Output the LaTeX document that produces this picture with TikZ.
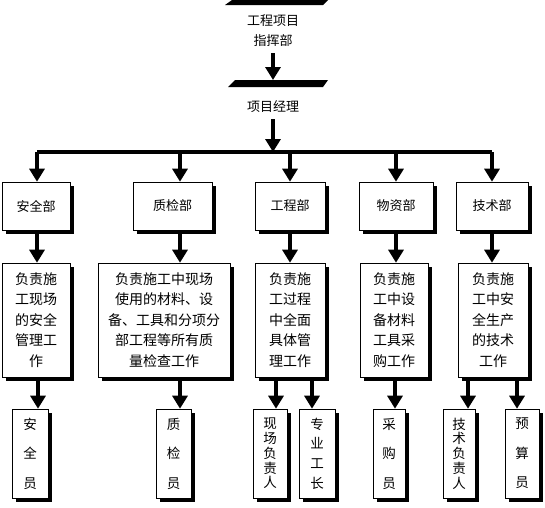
\documentclass[tikz,border=0pt]{standalone}
\usepackage{fontspec}
\newfontfamily\cjk{Noto Sans CJK SC}
\usetikzlibrary{arrows.meta,shadows}
\begin{document}
\begin{tikzpicture}[x=1pt,y=-1pt,
  box/.style={draw=black,line width=0.6pt,fill=white,inner sep=0pt,
    drop shadow={shadow xshift=4pt,shadow yshift=-4pt,fill=black,opacity=1}},
  depbox/.style={box,minimum height=48pt,font=\cjk\fontsize{13}{16}\selectfont},
  descbox/.style={box,minimum height=114pt,align=center,font=\cjk\fontsize{14}{20.5}\selectfont},
  leafbox/.style={box,minimum height=89pt,align=center},
  plain/.style={inner sep=0pt,align=center,font=\cjk\fontsize{13}{20}\selectfont},
  conn/.style={line width=3.2pt},
  arr/.style={line width=3.2pt,-{Triangle[width=15pt,length=13pt]}}]
\useasboundingbox (0,0) rectangle (545,507);
% top bars
\fill[black] (225,5) -- (232,0) -- (328,0) -- (323,5) -- cycle;
\fill[black] (228,87) -- (235,80) -- (328,80) -- (323,87) -- cycle;
\node[plain] (top) at (273,31) {工程项目\\指挥部};
\coordinate (bar2) at (273,80);
\node[plain] (pm) at (273,107) {项目经理};
\coordinate (hub) at (273,152);
\coordinate (hl) at (37,152);
\coordinate (hr) at (492,152);
% x positions
\coordinate (xa) at (37,0);
\coordinate (xb) at (180,0);
\coordinate (xc) at (290,0);
\coordinate (xd) at (396,0);
\coordinate (xe) at (492,0);
% departments
\node[depbox,minimum width=68pt] (dep1) at (36,206) {安全部};
\node[depbox,minimum width=79pt] (dep2) at (172.5,206) {质检部};
\node[depbox,minimum width=70pt] (dep3) at (290,206) {工程部};
\node[depbox,minimum width=74pt] (dep4) at (396,206) {物资部};
\node[depbox,minimum width=72pt] (dep5) at (492,206) {技术部};
% descriptions
\node[descbox,minimum width=68pt] (d1) at (36,320) {负责施\\工现场\\的安全\\管理工\\作};
\node[descbox,minimum width=132pt] (d2) at (164,320) {负责施工中现场\\使用的材料、设\\备、工具和分项分\\部工程等所有质\\量检查工作};
\node[descbox,minimum width=70pt] (d3) at (290,320) {负责施\\工过程\\中全面\\具体管\\理工作};
\node[descbox,minimum width=68pt] (d4) at (394,320) {负责施\\工中设\\备材料\\工具采\\购工作};
\node[descbox,minimum width=70pt] (d5) at (493,320) {负责施\\工中安\\全生产\\的技术\\工作};
% leaves
\node[leafbox,minimum width=36pt,font=\cjk\fontsize{13.5}{29.5}\selectfont] (l1) at (30,453.5) {安\\全\\员};
\node[leafbox,minimum width=35pt,font=\cjk\fontsize{13.5}{29.5}\selectfont] (l2) at (173.5,453.5) {质\\检\\员};
\node[leafbox,minimum width=34pt,font=\cjk\fontsize{13.5}{14.7}\selectfont] (l3) at (270,453.5) {现\\场\\负\\责\\人};
\node[leafbox,minimum width=36pt,font=\cjk\fontsize{13.5}{19.7}\selectfont] (l4) at (317,453.5) {专\\业\\工\\长};
\node[leafbox,minimum width=32pt,font=\cjk\fontsize{13.5}{29.5}\selectfont] (l5) at (389,453.5) {采\\购\\员};
\node[leafbox,minimum width=32pt,font=\cjk\fontsize{13.5}{14.7}\selectfont] (l6) at (459,453.5) {技\\术\\负\\责\\人};
\node[leafbox,minimum width=34pt,font=\cjk\fontsize{13.5}{29.5}\selectfont] (l7) at (522,453.5) {预\\算\\员};
\coordinate (xf) at (38,0);
\coordinate (xg) at (180,0);
\coordinate (xh) at (276,0);
\coordinate (xi) at (312,0);
\coordinate (xj) at (395,0);
\coordinate (xk) at (468,0);
\coordinate (xl) at (517,0);
% connectors
\draw[arr] (top.south) ++(0,6) -- (bar2);
\draw[arr] (pm.south) ++(0,6) -- (hub);
\draw[conn] (hl) -- (hr);
\draw[arr] (hl) -- (dep1.north -| xa);
\draw[arr] (hl -| xb) -- (dep2.north -| xb);
\draw[arr] (hl -| xc) -- (dep3.north -| xc);
\draw[arr] (hl -| xd) -- (dep4.north -| xd);
\draw[arr] (hr) -- (dep5.north -| xe);
\draw[arr] (dep1.south -| xa) -- (d1.north -| xa);
\draw[arr] (dep2.south -| xb) -- (d2.north -| xb);
\draw[arr] (dep3.south -| xc) -- (d3.north -| xc);
\draw[arr] (dep4.south -| xd) -- (d4.north -| xd);
\draw[arr] (dep5.south -| xe) -- (d5.north -| xe);
\draw[arr] (d1.south -| xf) -- (l1.north -| xf);
\draw[arr] (d2.south -| xg) -- (l2.north -| xg);
\draw[arr] (d3.south -| xh) -- (l3.north -| xh);
\draw[arr] (d3.south -| xi) -- (l4.north -| xi);
\draw[arr] (d4.south -| xj) -- (l5.north -| xj);
\draw[arr] (d5.south -| xk) -- (l6.north -| xk);
\draw[arr] (d5.south -| xl) -- (l7.north -| xl);
\end{tikzpicture}
\end{document}
